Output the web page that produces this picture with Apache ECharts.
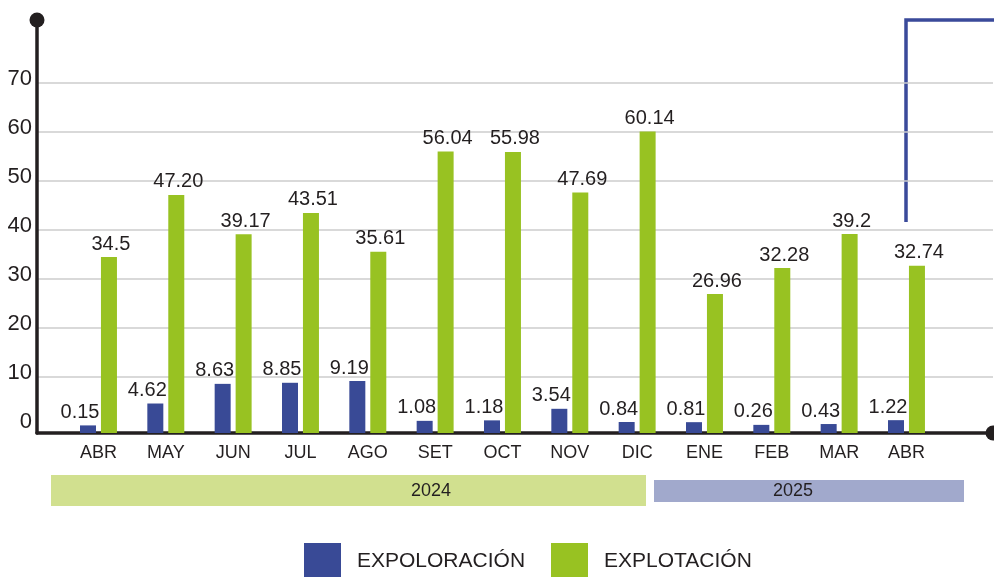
<!DOCTYPE html>
<html>
<head>
<meta charset="utf-8">
<script src="https://cdn.jsdelivr.net/npm/echarts@6/dist/echarts.min.js"></script>
<style>
html,body{margin:0;padding:0;background:#fff;}
#chart{width:994px;height:577px;}
</style>
</head>
<body>
<div id="chart"></div>
<script>
var months = ['ABR','MAY','JUN','JUL','AGO','SET','OCT','NOV','DIC','ENE','FEB','MAR','ABR'];
var exploracion = [0.15,4.62,8.63,8.85,9.19,1.08,1.18,3.54,0.84,0.81,0.26,0.43,1.22];
var explotacion = [34.5,47.20,39.17,43.51,35.61,56.04,55.98,47.69,60.14,26.96,32.28,39.2,32.74];
var exploracionLabels = ['0.15','4.62','8.63','8.85','9.19','1.08','1.18','3.54','0.84','0.81','0.26','0.43','1.22'];
var explotacionLabels = ['34.5','47.20','39.17','43.51','35.61','56.04','55.98','47.69','60.14','26.96','32.28','39.2','32.74'];
var yTicks = [0,10,20,30,40,50,60,70];
var years = ['2024','2025'];
var seriesNames = ['EXPOLORACIÓN','EXPLOTACIÓN'];

var FONT = "'Liberation Sans', Arial, sans-serif";
var DARK = '#231f20';
var BLUE = '#394a96';
var GREEN = '#98c222';

var chart = echarts.init(document.getElementById('chart'));
var idx = months.map(function(_, i){ return i; });

chart.setOption({
  animation: false,
  textStyle: { fontFamily: FONT },
  grid: { left: 37, right: 1, top: 20, bottom: 144, containLabel: false },
  legend: [
    { data: [seriesNames[0]], left: 304, top: 543, padding: 0, itemWidth: 37, itemHeight: 37, icon: 'rect',
      textStyle: { fontSize: 21, color: DARK, fontFamily: FONT, padding: [0,0,0,11] } },
    { data: [seriesNames[1]], left: 551, top: 543, padding: 0, itemWidth: 37, itemHeight: 37, icon: 'rect',
      textStyle: { fontSize: 21, color: DARK, fontFamily: FONT, padding: [0,0,0,11] } }
  ],
  xAxis: {
    type: 'value',
    min: -0.913,
    max: 13.285,
    splitLine: { show: false },
    axisTick: { show: false },
    axisLine: { show: true, onZero: false, lineStyle: { color: DARK, width: 3.5 },
      symbol: ['none','circle'], symbolSize: [15,15] },
    axisLabel: {
      customValues: idx,
      formatter: function(v){ return months[Math.round(v)]; },
      fontSize: 18, color: DARK, margin: 11, fontFamily: FONT
    }
  },
  yAxis: {
    type: 'value',
    min: -1.4,
    max: 82.9,
    startValue: -1.4,
    axisLine: { show: true, onZero: false, lineStyle: { color: DARK, width: 3.5 },
      symbol: ['none','circle'], symbolSize: [15,15] },
    axisTick: { show: false, customValues: yTicks.slice(1) },
    axisLabel: { customValues: yTicks, fontSize: 22, color: DARK, margin: 5,
      verticalAlign: 'bottom', lineHeight: 9, fontFamily: FONT },
    splitLine: { show: true, lineStyle: { color: '#cccccc', width: 1.6 } }
  },
  series: [
    {
      name: seriesNames[0], type: 'bar', barWidth: 16, barGap: '31%',
      itemStyle: { color: BLUE },
      data: exploracion.map(function(v, i){ return [i, v]; }),
      label: { show: true, position: 'top', distance: 3, offset: [-8, 0],
        fontSize: 20, color: DARK, fontFamily: FONT,
        formatter: function(p){ return exploracionLabels[p.dataIndex]; } }
    },
    {
      name: seriesNames[1], type: 'bar', barWidth: 16, barGap: '31%',
      itemStyle: { color: GREEN },
      data: explotacion.map(function(v, i){ return [i, v]; }),
      label: { show: true, position: 'top', distance: 3, offset: [2, 0],
        fontSize: 20, color: DARK, fontFamily: FONT,
        formatter: function(p){ return explotacionLabels[p.dataIndex]; } }
    }
  ],
  graphic: [
    { type: 'rect', shape: { x: 51, y: 475, width: 595, height: 31 }, style: { fill: '#d1e08f' }, silent: true },
    { type: 'text', x: 431, y: 491, style: { text: years[0], fill: DARK, font: '18px ' + FONT, align: 'center', verticalAlign: 'middle' }, silent: true },
    { type: 'rect', shape: { x: 654, y: 480, width: 310, height: 22 }, style: { fill: '#a1a9cc' }, silent: true },
    { type: 'text', x: 793, y: 491, style: { text: years[1], fill: DARK, font: '18px ' + FONT, align: 'center', verticalAlign: 'middle' }, silent: true },
    { type: 'polyline', shape: { points: [[906,222],[906,20],[994,20]] }, style: { stroke: '#3a4a9a', lineWidth: 3.5, fill: null }, silent: true }
  ]
});
</script>
</body>
</html>
